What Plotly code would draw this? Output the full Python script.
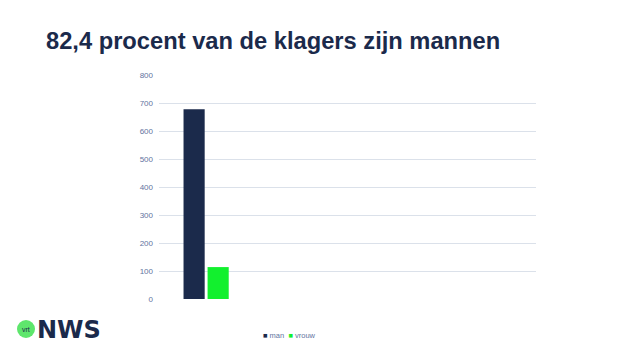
import plotly.graph_objects as go

# ---- data ----
categories = [0]            # single filled category (others empty)
series_names = ["man", "vrouw"]
man_values = [678]
vrouw_values = [114]
y_ticks = [0, 100, 200, 300, 400, 500, 600, 700, 800]
title_text = "82,4 procent van de klagers zijn mannen"

NAVY = "#1b2a4b"
GREEN = "#12f02e"
TICK = "#5f74a0"

fig = go.Figure()
fig.add_trace(go.Bar(x=categories, y=man_values, name=series_names[0],
                     marker=dict(color=NAVY, line=dict(width=0))))
fig.add_trace(go.Bar(x=categories, y=vrouw_values, name=series_names[1],
                     marker=dict(color=GREEN, line=dict(width=0))))

fig.update_layout(
    width=638, height=359,
    margin=dict(l=159, r=102, t=75, b=60),
    paper_bgcolor="white", plot_bgcolor="white",
    barmode="group", bargap=0.49, bargroupgap=0.12,
    showlegend=False,
    title=dict(text="<b>" + title_text + "</b>", xref="container", yref="container",
               x=46/638, xanchor="left", y=1-41/359, yanchor="middle",
               font=dict(family="Liberation Sans, Arial, sans-serif", size=23.7, color=NAVY)),
    font=dict(family="Liberation Sans, Arial, sans-serif"),
)
fig.update_xaxes(range=[-0.5, 3.5], showticklabels=False, showgrid=False,
                 zeroline=False, showline=False, fixedrange=True)
fig.update_yaxes(range=[0, 800], tickvals=y_ticks, showgrid=True, gridcolor="#dbe1ea",
                 gridwidth=1, zeroline=False, showline=False,
                 tickfont=dict(size=8, color=TICK), ticklabelstandoff=5)

# legend (as text with coloured squares)
fig.add_annotation(xref="paper", yref="paper", x=(261-159)/377, y=-(335-299)/224,
                   xanchor="left", yanchor="middle", showarrow=False,
                   text=f"<span style='color:{NAVY}'>■</span> {series_names[0]}  "
                        f"<span style='color:{GREEN}'>■</span> {series_names[1]}",
                   font=dict(size=7.5, color=TICK))

# VRT NWS logo
fig.add_shape(type="circle", xref="paper", yref="paper",
              x0=(17-159)/377, x1=(35-159)/377,
              y0=-(338-299)/224, y1=-(320-299)/224,
              fillcolor="#5ee66c", line=dict(width=0))
fig.add_annotation(xref="paper", yref="paper", x=(26-159)/377, y=-(329-299)/224,
                   xanchor="center", yanchor="middle", showarrow=False,
                   text="vrt", font=dict(size=7, color=NAVY, family="Liberation Sans, Arial"))
fig.add_annotation(xref="paper", yref="paper", x=(35-159)/377, y=-(330-299)/224,
                   xanchor="left", yanchor="middle", showarrow=False,
                   text="<b>NWS</b>", font=dict(size=24, color=NAVY, family="DejaVu Sans, Arial"))

fig.write_html("out.html", config={"displayModeBar": False},
               post_script="document.body.style.margin='0';document.body.style.padding='0';")
